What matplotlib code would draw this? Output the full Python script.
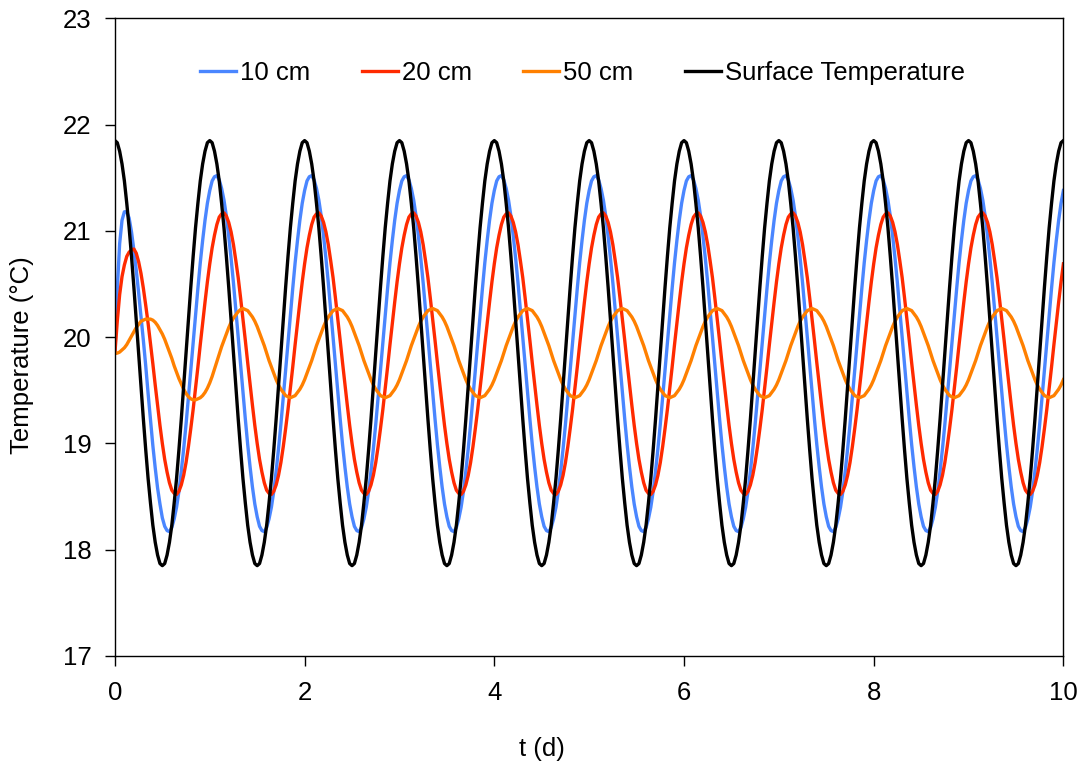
#!/usr/bin/env python3
"""
Soil temperature at depth vs surface temperature over 10 days.
Values read off the reference chart every 0.025 d.
"""
import matplotlib
matplotlib.use('Agg')
import matplotlib.pyplot as plt
import numpy as np

plt.rcParams['font.family'] = ['Liberation Sans', 'DejaVu Sans']

# sample times (d), every 0.025 d from 0 to 10
t = np.linspace(0, 10, 401)

# Surface temperature (deg C), one row per day
surface = [
    21.85, 21.83, 21.75, 21.63, 21.47, 21.26, 21.03, 20.76, 20.47, 20.16, 19.85, 19.54, 19.23, 18.94, 18.67, 18.44, 18.23, 18.07, 17.95, 17.87, 17.85, 17.87, 17.95, 18.07, 18.23, 18.44, 18.67, 18.94, 19.23, 19.54, 19.85, 20.16, 20.47, 20.76, 21.03, 21.26, 21.47, 21.63, 21.75, 21.83,
    21.85, 21.83, 21.75, 21.63, 21.47, 21.26, 21.03, 20.76, 20.47, 20.16, 19.85, 19.54, 19.23, 18.94, 18.67, 18.44, 18.23, 18.07, 17.95, 17.87, 17.85, 17.87, 17.95, 18.07, 18.23, 18.44, 18.67, 18.94, 19.23, 19.54, 19.85, 20.16, 20.47, 20.76, 21.03, 21.26, 21.47, 21.63, 21.75, 21.83,
    21.85, 21.83, 21.75, 21.63, 21.47, 21.26, 21.03, 20.76, 20.47, 20.16, 19.85, 19.54, 19.23, 18.94, 18.67, 18.44, 18.23, 18.07, 17.95, 17.87, 17.85, 17.87, 17.95, 18.07, 18.23, 18.44, 18.67, 18.94, 19.23, 19.54, 19.85, 20.16, 20.47, 20.76, 21.03, 21.26, 21.47, 21.63, 21.75, 21.83,
    21.85, 21.83, 21.75, 21.63, 21.47, 21.26, 21.03, 20.76, 20.47, 20.16, 19.85, 19.54, 19.23, 18.94, 18.67, 18.44, 18.23, 18.07, 17.95, 17.87, 17.85, 17.87, 17.95, 18.07, 18.23, 18.44, 18.67, 18.94, 19.23, 19.54, 19.85, 20.16, 20.47, 20.76, 21.03, 21.26, 21.47, 21.63, 21.75, 21.83,
    21.85, 21.83, 21.75, 21.63, 21.47, 21.26, 21.03, 20.76, 20.47, 20.16, 19.85, 19.54, 19.23, 18.94, 18.67, 18.44, 18.23, 18.07, 17.95, 17.87, 17.85, 17.87, 17.95, 18.07, 18.23, 18.44, 18.67, 18.94, 19.23, 19.54, 19.85, 20.16, 20.47, 20.76, 21.03, 21.26, 21.47, 21.63, 21.75, 21.83,
    21.85, 21.83, 21.75, 21.63, 21.47, 21.26, 21.03, 20.76, 20.47, 20.16, 19.85, 19.54, 19.23, 18.94, 18.67, 18.44, 18.23, 18.07, 17.95, 17.87, 17.85, 17.87, 17.95, 18.07, 18.23, 18.44, 18.67, 18.94, 19.23, 19.54, 19.85, 20.16, 20.47, 20.76, 21.03, 21.26, 21.47, 21.63, 21.75, 21.83,
    21.85, 21.83, 21.75, 21.63, 21.47, 21.26, 21.03, 20.76, 20.47, 20.16, 19.85, 19.54, 19.23, 18.94, 18.67, 18.44, 18.23, 18.07, 17.95, 17.87, 17.85, 17.87, 17.95, 18.07, 18.23, 18.44, 18.67, 18.94, 19.23, 19.54, 19.85, 20.16, 20.47, 20.76, 21.03, 21.26, 21.47, 21.63, 21.75, 21.83,
    21.85, 21.83, 21.75, 21.63, 21.47, 21.26, 21.03, 20.76, 20.47, 20.16, 19.85, 19.54, 19.23, 18.94, 18.67, 18.44, 18.23, 18.07, 17.95, 17.87, 17.85, 17.87, 17.95, 18.07, 18.23, 18.44, 18.67, 18.94, 19.23, 19.54, 19.85, 20.16, 20.47, 20.76, 21.03, 21.26, 21.47, 21.63, 21.75, 21.83,
    21.85, 21.83, 21.75, 21.63, 21.47, 21.26, 21.03, 20.76, 20.47, 20.16, 19.85, 19.54, 19.23, 18.94, 18.67, 18.44, 18.23, 18.07, 17.95, 17.87, 17.85, 17.87, 17.95, 18.07, 18.23, 18.44, 18.67, 18.94, 19.23, 19.54, 19.85, 20.16, 20.47, 20.76, 21.03, 21.26, 21.47, 21.63, 21.75, 21.83,
    21.85, 21.83, 21.75, 21.63, 21.47, 21.26, 21.03, 20.76, 20.47, 20.16, 19.85, 19.54, 19.23, 18.94, 18.67, 18.44, 18.23, 18.07, 17.95, 17.87, 17.85, 17.87, 17.95, 18.07, 18.23, 18.44, 18.67, 18.94, 19.23, 19.54, 19.85, 20.16, 20.47, 20.76, 21.03, 21.26, 21.47, 21.63, 21.75, 21.83,
    21.85,
]

# 10 cm depth
depth10 = [
    19.85, 20.45, 20.88, 21.10, 21.18, 21.18, 21.12, 20.99, 20.82, 20.63, 20.42, 20.20, 19.97, 19.73, 19.47, 19.23, 18.98, 18.77, 18.58, 18.43, 18.30, 18.22, 18.18, 18.17, 18.21, 18.29, 18.40, 18.55, 18.74, 18.95, 19.18, 19.43, 19.69, 19.95, 20.21, 20.46, 20.70, 20.91, 21.10, 21.26,
    21.38, 21.47, 21.51, 21.52, 21.48, 21.40, 21.29, 21.14, 20.95, 20.74, 20.51, 20.26, 20.00, 19.74, 19.48, 19.23, 18.99, 18.78, 18.59, 18.43, 18.31, 18.22, 18.18, 18.17, 18.21, 18.29, 18.40, 18.55, 18.74, 18.95, 19.18, 19.43, 19.69, 19.95, 20.21, 20.46, 20.70, 20.91, 21.10, 21.26,
    21.38, 21.47, 21.51, 21.52, 21.48, 21.40, 21.29, 21.14, 20.95, 20.74, 20.51, 20.26, 20.00, 19.74, 19.48, 19.23, 18.99, 18.78, 18.59, 18.43, 18.31, 18.22, 18.18, 18.17, 18.21, 18.29, 18.40, 18.55, 18.74, 18.95, 19.18, 19.43, 19.69, 19.95, 20.21, 20.46, 20.70, 20.91, 21.10, 21.26,
    21.38, 21.47, 21.51, 21.52, 21.48, 21.40, 21.29, 21.14, 20.95, 20.74, 20.51, 20.26, 20.00, 19.74, 19.48, 19.23, 18.99, 18.78, 18.59, 18.43, 18.31, 18.22, 18.18, 18.17, 18.21, 18.29, 18.40, 18.55, 18.74, 18.95, 19.18, 19.43, 19.69, 19.95, 20.21, 20.46, 20.70, 20.91, 21.10, 21.26,
    21.38, 21.47, 21.51, 21.52, 21.48, 21.40, 21.29, 21.14, 20.95, 20.74, 20.51, 20.26, 20.00, 19.74, 19.48, 19.23, 18.99, 18.78, 18.59, 18.43, 18.31, 18.22, 18.18, 18.17, 18.21, 18.29, 18.40, 18.55, 18.74, 18.95, 19.18, 19.43, 19.69, 19.95, 20.21, 20.46, 20.70, 20.91, 21.10, 21.26,
    21.38, 21.47, 21.51, 21.52, 21.48, 21.40, 21.29, 21.14, 20.95, 20.74, 20.51, 20.26, 20.00, 19.74, 19.48, 19.23, 18.99, 18.78, 18.59, 18.43, 18.31, 18.22, 18.18, 18.17, 18.21, 18.29, 18.40, 18.55, 18.74, 18.95, 19.18, 19.43, 19.69, 19.95, 20.21, 20.46, 20.70, 20.91, 21.10, 21.26,
    21.38, 21.47, 21.51, 21.52, 21.48, 21.40, 21.29, 21.14, 20.95, 20.74, 20.51, 20.26, 20.00, 19.74, 19.48, 19.23, 18.99, 18.78, 18.59, 18.43, 18.31, 18.22, 18.18, 18.17, 18.21, 18.29, 18.40, 18.55, 18.74, 18.95, 19.18, 19.43, 19.69, 19.95, 20.21, 20.46, 20.70, 20.91, 21.10, 21.26,
    21.38, 21.47, 21.51, 21.52, 21.48, 21.40, 21.29, 21.14, 20.95, 20.74, 20.51, 20.26, 20.00, 19.74, 19.48, 19.23, 18.99, 18.78, 18.59, 18.43, 18.31, 18.22, 18.18, 18.17, 18.21, 18.29, 18.40, 18.55, 18.74, 18.95, 19.18, 19.43, 19.69, 19.95, 20.21, 20.46, 20.70, 20.91, 21.10, 21.26,
    21.38, 21.47, 21.51, 21.52, 21.48, 21.40, 21.29, 21.14, 20.95, 20.74, 20.51, 20.26, 20.00, 19.74, 19.48, 19.23, 18.99, 18.78, 18.59, 18.43, 18.31, 18.22, 18.18, 18.17, 18.21, 18.29, 18.40, 18.55, 18.74, 18.95, 19.18, 19.43, 19.69, 19.95, 20.21, 20.46, 20.70, 20.91, 21.10, 21.26,
    21.38, 21.47, 21.51, 21.52, 21.48, 21.40, 21.29, 21.14, 20.95, 20.74, 20.51, 20.26, 20.00, 19.74, 19.48, 19.23, 18.99, 18.78, 18.59, 18.43, 18.31, 18.22, 18.18, 18.17, 18.21, 18.29, 18.40, 18.55, 18.74, 18.95, 19.18, 19.43, 19.69, 19.95, 20.21, 20.46, 20.70, 20.91, 21.10, 21.26,
    21.38,
]

# 20 cm depth
depth20 = [
    19.85, 20.15, 20.40, 20.57, 20.68, 20.76, 20.80, 20.82, 20.83, 20.79, 20.71, 20.60, 20.46, 20.30, 20.13, 19.94, 19.75, 19.55, 19.36, 19.17, 19.00, 18.85, 18.73, 18.63, 18.56, 18.53, 18.52, 18.55, 18.61, 18.70, 18.82, 18.97, 19.14, 19.32, 19.52, 19.72, 19.93, 20.13, 20.33, 20.52,
    20.69, 20.84, 20.96, 21.06, 21.13, 21.16, 21.17, 21.14, 21.08, 20.99, 20.87, 20.72, 20.56, 20.37, 20.17, 19.97, 19.76, 19.56, 19.36, 19.17, 19.00, 18.85, 18.73, 18.63, 18.56, 18.53, 18.52, 18.55, 18.61, 18.70, 18.82, 18.97, 19.14, 19.32, 19.52, 19.72, 19.93, 20.13, 20.33, 20.52,
    20.69, 20.84, 20.96, 21.06, 21.13, 21.16, 21.17, 21.14, 21.08, 20.99, 20.87, 20.72, 20.56, 20.37, 20.17, 19.97, 19.76, 19.56, 19.36, 19.17, 19.00, 18.85, 18.73, 18.63, 18.56, 18.53, 18.52, 18.55, 18.61, 18.70, 18.82, 18.97, 19.14, 19.32, 19.52, 19.72, 19.93, 20.13, 20.33, 20.52,
    20.69, 20.84, 20.96, 21.06, 21.13, 21.16, 21.17, 21.14, 21.08, 20.99, 20.87, 20.72, 20.56, 20.37, 20.17, 19.97, 19.76, 19.56, 19.36, 19.17, 19.00, 18.85, 18.73, 18.63, 18.56, 18.53, 18.52, 18.55, 18.61, 18.70, 18.82, 18.97, 19.14, 19.32, 19.52, 19.72, 19.93, 20.13, 20.33, 20.52,
    20.69, 20.84, 20.96, 21.06, 21.13, 21.16, 21.17, 21.14, 21.08, 20.99, 20.87, 20.72, 20.56, 20.37, 20.17, 19.97, 19.76, 19.56, 19.36, 19.17, 19.00, 18.85, 18.73, 18.63, 18.56, 18.53, 18.52, 18.55, 18.61, 18.70, 18.82, 18.97, 19.14, 19.32, 19.52, 19.72, 19.93, 20.13, 20.33, 20.52,
    20.69, 20.84, 20.96, 21.06, 21.13, 21.16, 21.17, 21.14, 21.08, 20.99, 20.87, 20.72, 20.56, 20.37, 20.17, 19.97, 19.76, 19.56, 19.36, 19.17, 19.00, 18.85, 18.73, 18.63, 18.56, 18.53, 18.52, 18.55, 18.61, 18.70, 18.82, 18.97, 19.14, 19.32, 19.52, 19.72, 19.93, 20.13, 20.33, 20.52,
    20.69, 20.84, 20.96, 21.06, 21.13, 21.16, 21.17, 21.14, 21.08, 20.99, 20.87, 20.72, 20.56, 20.37, 20.17, 19.97, 19.76, 19.56, 19.36, 19.17, 19.00, 18.85, 18.73, 18.63, 18.56, 18.53, 18.52, 18.55, 18.61, 18.70, 18.82, 18.97, 19.14, 19.32, 19.52, 19.72, 19.93, 20.13, 20.33, 20.52,
    20.69, 20.84, 20.96, 21.06, 21.13, 21.16, 21.17, 21.14, 21.08, 20.99, 20.87, 20.72, 20.56, 20.37, 20.17, 19.97, 19.76, 19.56, 19.36, 19.17, 19.00, 18.85, 18.73, 18.63, 18.56, 18.53, 18.52, 18.55, 18.61, 18.70, 18.82, 18.97, 19.14, 19.32, 19.52, 19.72, 19.93, 20.13, 20.33, 20.52,
    20.69, 20.84, 20.96, 21.06, 21.13, 21.16, 21.17, 21.14, 21.08, 20.99, 20.87, 20.72, 20.56, 20.37, 20.17, 19.97, 19.76, 19.56, 19.36, 19.17, 19.00, 18.85, 18.73, 18.63, 18.56, 18.53, 18.52, 18.55, 18.61, 18.70, 18.82, 18.97, 19.14, 19.32, 19.52, 19.72, 19.93, 20.13, 20.33, 20.52,
    20.69, 20.84, 20.96, 21.06, 21.13, 21.16, 21.17, 21.14, 21.08, 20.99, 20.87, 20.72, 20.56, 20.37, 20.17, 19.97, 19.76, 19.56, 19.36, 19.17, 19.00, 18.85, 18.73, 18.63, 18.56, 18.53, 18.52, 18.55, 18.61, 18.70, 18.82, 18.97, 19.14, 19.32, 19.52, 19.72, 19.93, 20.13, 20.33, 20.52,
    20.69,
]

# 50 cm depth
depth50 = [
    19.85, 19.85, 19.86, 19.88, 19.90, 19.93, 19.97, 20.01, 20.05, 20.09, 20.12, 20.15, 20.16, 20.17, 20.17, 20.17, 20.16, 20.14, 20.11, 20.07, 20.03, 19.98, 19.92, 19.86, 19.80, 19.73, 19.67, 19.61, 19.56, 19.51, 19.47, 19.44, 19.42, 19.41, 19.41, 19.42, 19.43, 19.45, 19.48, 19.52,
    19.57, 19.63, 19.70, 19.77, 19.84, 19.91, 19.97, 20.03, 20.09, 20.14, 20.18, 20.21, 20.24, 20.26, 20.27, 20.26, 20.25, 20.22, 20.19, 20.15, 20.10, 20.04, 19.98, 19.92, 19.85, 19.78, 19.72, 19.66, 19.60, 19.55, 19.51, 19.48, 19.45, 19.44, 19.43, 19.44, 19.45, 19.48, 19.51, 19.55,
    19.60, 19.66, 19.72, 19.78, 19.85, 19.92, 19.98, 20.04, 20.10, 20.15, 20.19, 20.22, 20.25, 20.26, 20.27, 20.26, 20.25, 20.22, 20.19, 20.15, 20.10, 20.04, 19.98, 19.92, 19.85, 19.78, 19.72, 19.66, 19.60, 19.55, 19.51, 19.48, 19.45, 19.44, 19.43, 19.44, 19.45, 19.48, 19.51, 19.55,
    19.60, 19.66, 19.72, 19.78, 19.85, 19.92, 19.98, 20.04, 20.10, 20.15, 20.19, 20.22, 20.25, 20.26, 20.27, 20.26, 20.25, 20.22, 20.19, 20.15, 20.10, 20.04, 19.98, 19.92, 19.85, 19.78, 19.72, 19.66, 19.60, 19.55, 19.51, 19.48, 19.45, 19.44, 19.43, 19.44, 19.45, 19.48, 19.51, 19.55,
    19.60, 19.66, 19.72, 19.78, 19.85, 19.92, 19.98, 20.04, 20.10, 20.15, 20.19, 20.22, 20.25, 20.26, 20.27, 20.26, 20.25, 20.22, 20.19, 20.15, 20.10, 20.04, 19.98, 19.92, 19.85, 19.78, 19.72, 19.66, 19.60, 19.55, 19.51, 19.48, 19.45, 19.44, 19.43, 19.44, 19.45, 19.48, 19.51, 19.55,
    19.60, 19.66, 19.72, 19.78, 19.85, 19.92, 19.98, 20.04, 20.10, 20.15, 20.19, 20.22, 20.25, 20.26, 20.27, 20.26, 20.25, 20.22, 20.19, 20.15, 20.10, 20.04, 19.98, 19.92, 19.85, 19.78, 19.72, 19.66, 19.60, 19.55, 19.51, 19.48, 19.45, 19.44, 19.43, 19.44, 19.45, 19.48, 19.51, 19.55,
    19.60, 19.66, 19.72, 19.78, 19.85, 19.92, 19.98, 20.04, 20.10, 20.15, 20.19, 20.22, 20.25, 20.26, 20.27, 20.26, 20.25, 20.22, 20.19, 20.15, 20.10, 20.04, 19.98, 19.92, 19.85, 19.78, 19.72, 19.66, 19.60, 19.55, 19.51, 19.48, 19.45, 19.44, 19.43, 19.44, 19.45, 19.48, 19.51, 19.55,
    19.60, 19.66, 19.72, 19.78, 19.85, 19.92, 19.98, 20.04, 20.10, 20.15, 20.19, 20.22, 20.25, 20.26, 20.27, 20.26, 20.25, 20.22, 20.19, 20.15, 20.10, 20.04, 19.98, 19.92, 19.85, 19.78, 19.72, 19.66, 19.60, 19.55, 19.51, 19.48, 19.45, 19.44, 19.43, 19.44, 19.45, 19.48, 19.51, 19.55,
    19.60, 19.66, 19.72, 19.78, 19.85, 19.92, 19.98, 20.04, 20.10, 20.15, 20.19, 20.22, 20.25, 20.26, 20.27, 20.26, 20.25, 20.22, 20.19, 20.15, 20.10, 20.04, 19.98, 19.92, 19.85, 19.78, 19.72, 19.66, 19.60, 19.55, 19.51, 19.48, 19.45, 19.44, 19.43, 19.44, 19.45, 19.48, 19.51, 19.55,
    19.60, 19.66, 19.72, 19.78, 19.85, 19.92, 19.98, 20.04, 20.10, 20.15, 20.19, 20.22, 20.25, 20.26, 20.27, 20.26, 20.25, 20.22, 20.19, 20.15, 20.10, 20.04, 19.98, 19.92, 19.85, 19.78, 19.72, 19.66, 19.60, 19.55, 19.51, 19.48, 19.45, 19.44, 19.43, 19.44, 19.45, 19.48, 19.51, 19.55,
    19.60,
]

x_ticks = [0, 2, 4, 6, 8, 10]
y_ticks = [17, 18, 19, 20, 21, 22, 23]

fig = plt.figure(figsize=(10.84, 7.65), dpi=100)
ax = fig.add_axes([0.106, 0.1425, 0.875, 0.8335])

lw = 2.4
ax.plot(t, depth10, color='#4a86ff', linewidth=lw, label='10 cm')
ax.plot(t, depth20, color='#ff2a00', linewidth=lw, label='20 cm')
ax.plot(t, depth50, color='#ff8000', linewidth=lw, label='50 cm')
ax.plot(t, surface, color='black', linewidth=lw, label='Surface Temperature')

ax.set_xlim(0, 10)
ax.set_ylim(17, 23)
ax.set_xticks(x_ticks)
ax.set_yticks(y_ticks)
fs = 18.5
ax.tick_params(axis='both', direction='out', length=7, width=1, labelsize=fs)
ax.tick_params(axis='x', pad=11)
ax.tick_params(axis='y', pad=10)
for sp in ax.spines.values():
    sp.set_linewidth(1.0)
    sp.set_color('black')

ax.set_xlabel('t (d)', fontsize=fs)
ax.xaxis.set_label_coords(0.45, -0.127)
ax.set_ylabel('Temperature (°C)', fontsize=fs)
ax.yaxis.set_label_coords(-0.085, 0.472)

ax.legend(loc='center', bbox_to_anchor=(0.493, 0.914), ncol=4, frameon=False,
          fontsize=fs, handlelength=1.4, handletextpad=0.15, columnspacing=2.0)

plt.savefig('out.png', dpi=100)
